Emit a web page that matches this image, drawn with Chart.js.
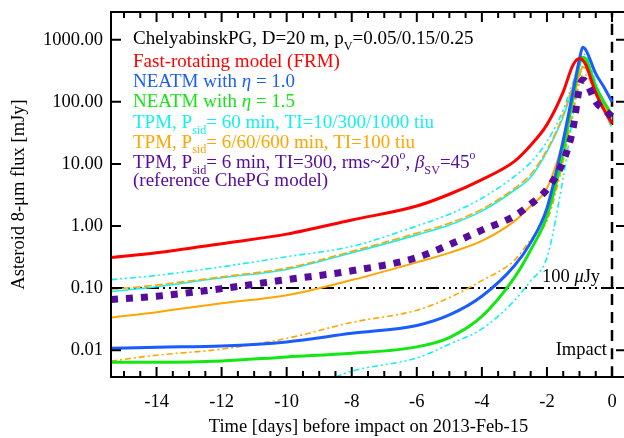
<!DOCTYPE html>
<html>
<head>
<meta charset="utf-8">
<script src="https://cdn.jsdelivr.net/npm/chart.js@4.4.1/dist/chart.umd.min.js"></script>
<style>
  html, body { margin: 0; padding: 0; background: #fff; overflow: hidden; }
  #wrap { width: 632px; height: 438px; }
</style>
</head>
<body>
<div id="wrap"><canvas id="chart" width="632" height="438"></canvas></div>
<script>
// days before impact, shared by most curves
const days = [-15.4, -14, -12, -10, -8, -6, -5, -4, -3, -2.5, -2, -1.5, -1.2, -1.0, -0.9, -0.8, -0.5, -0.25, 0];

// flux [mJy]
const frm       = [0.31, 0.37, 0.52, 0.74, 1.25, 2.1, 3.25, 5.6, 11, 20, 43, 145, 390, 500, 470, 390, 140, 75, 45];
const neatm10   = [0.0107, 0.0112, 0.0117, 0.0136, 0.0187, 0.025, 0.037, 0.074, 0.229, 0.54, 1.94, 24, 145, 490, 760, 680, 284, 174, 100];
const neatm15   = [0.0064, 0.0064, 0.0067, 0.0078, 0.0089, 0.0113, 0.016, 0.035, 0.147, 0.41, 1.45, 15.8, 120, 405, 525, 490, 174, 100, 62];
const tpmTi10   = [0.137, 0.16, 0.22, 0.32, 0.47, 1.0, 1.55, 2.8, 6.3, 10.6, 22.9, 74, 209, 405, 585, 560, 209, 100, 48];
const tpmTi300  = [0.088, 0.105, 0.147, 0.2, 0.37, 0.72, 1.04, 1.74, 3.77, 6.1, 15.8, 57.5, 174, 400, 525, 490, 190, 100, 52];
const tpmP6     = [0.0337, 0.041, 0.057, 0.077, 0.135, 0.26, 0.37, 0.575, 1.2, 2.1, 4.05, 22.9, 100, 280, 360, 350, 150, 85, 55];
const tpmP60    = [0.095, 0.112, 0.152, 0.21, 0.39, 0.77, 1.11, 1.87, 4.05, 6.8, 17, 62, 190, 420, 500, 470, 180, 95, 55];
const tpmP600   = [0.0067, 0.0083, 0.0104, 0.0155, 0.028, 0.044, 0.07, 0.132, 0.28, 0.6, 1.2, 11, 70, 200, 270, 270, 130, 70, 40];
const reference = [0.0655, 0.074, 0.098, 0.137, 0.19, 0.31, 0.5, 0.86, 1.45, 2.25, 3.9, 11, 37, 170, 225, 210, 100, 75, 58];

// TI=1000 curve only enters the plot late
const daysTi1000 = [-8.5, -8, -6, -5, -4, -3, -2.5, -2, -1.5, -1.2, -1.0, -0.9, -0.8, -0.5, -0.25, 0];
const tpmTi1000  = [0.0037, 0.0046, 0.0075, 0.0125, 0.022, 0.063, 0.132, 0.31, 6, 60, 250, 380, 400, 150, 75, 37];

const limitFlux = 0.1;        // 100 microJy
const xTicks = [-14, -12, -10, -8, -6, -4, -2, 0];
const yTicks = [0.01, 0.1, 1, 10, 100, 1000];
const xRange = [-15.4, 0.43];
const yRange = [0.0037, 2800];

const legendLines = [
  ["ChelyabinskPG, D=20 m, p_{V}=0.05/0.15/0.25", "#000000"],
  ["Fast-rotating model (FRM)", "#ff0000"],
  ["NEATM with |η| = 1.0", "#1a5cff"],
  ["NEATM with |η| = 1.5", "#14e614"],
  ["TPM, P_{sid}= 60 min, TI=10/300/1000 tiu", "#12f0f0"],
  ["TPM, P_{sid}= 6/60/600 min, TI=100 tiu", "#ffa500"],
  ["TPM, P_{sid}= 6 min, TI=300, rms~20^{o}, |β|_{SV}=45^{o}", "#560c9c"],
  ["(reference ChePG model)", "#560c9c"],
];

const FONT = '"Liberation Serif", "Times New Roman", serif';
const pts = (xs, ys) => xs.map((x, i) => ({ x: x, y: ys[i] }));

function line(label, xs, ys, color, width, dash) {
  return {
    label, data: pts(xs, ys), borderColor: color, borderWidth: width,
    borderDash: dash || [], pointRadius: 0, fill: false,
    cubicInterpolationMode: "monotone", clip: 0,
  };
}

// rich text: _{sub}, ^{sup}, |italic|
function drawRich(ctx, text, x, y, size, color) {
  const parts = text.split(/(_\{[^}]*\}|\^\{[^}]*\}|\|[^|]*\|)/).filter(s => s.length);
  ctx.fillStyle = color;
  ctx.textBaseline = "alphabetic";
  ctx.textAlign = "left";
  for (const p of parts) {
    let s = p, sz = size, dy = 0, it = false;
    if (p.startsWith("_{")) { s = p.slice(2, -1); sz = size * 0.64; dy = size * 0.3; }
    else if (p.startsWith("^{")) { s = p.slice(2, -1); sz = size * 0.62; dy = -size * 0.45; }
    else if (p.startsWith("|")) { s = p.slice(1, -1); it = true; }
    ctx.font = (it ? "italic " : "") + sz + "px " + FONT;
    ctx.fillText(s, x, y + dy);
    x += ctx.measureText(s).width;
  }
}

const framePlugin = {
  id: "frame",
  afterDatasetsDraw(chart) {
    const { ctx, chartArea: a, scales } = chart;
    ctx.save();
    ctx.strokeStyle = "#000";
    ctx.lineWidth = 2;
    ctx.setLineDash([]);
    ctx.strokeRect(a.left, a.top, a.right - a.left, a.bottom - a.top);
    ctx.beginPath();
    for (let v = -15; v <= 0.01; v += 0.5) {
      const px = scales.x.getPixelForValue(v);
      const len = Math.abs(v % 2) < 0.01 ? 10 : 6;
      ctx.moveTo(px, a.bottom); ctx.lineTo(px, a.bottom - len);
      ctx.moveTo(px, a.top); ctx.lineTo(px, a.top + len);
    }
    for (const v of yTicks) {
      const py = scales.y.getPixelForValue(v);
      ctx.moveTo(a.left, py); ctx.lineTo(a.left + 10, py);
      ctx.moveTo(a.right, py); ctx.lineTo(a.right - 10, py);
    }
    ctx.stroke();

    // legend text
    const base = [44, 66.5, 87, 107, 128, 147.5, 168, 186];
    legendLines.forEach((l, i) => drawRich(ctx, l[0], 133, base[i], 19, l[1]));

    // annotations
    const y01 = scales.y.getPixelForValue(limitFlux);
    drawRich(ctx, "100 |μ|Jy", 542, y01 - 6, 18.5, "#000");
    ctx.fillStyle = "#000";
    ctx.textAlign = "right";
    ctx.font = "18.5px " + FONT;
    ctx.fillText("Impact", 607, scales.y.getPixelForValue(0.01) + 5);
    ctx.restore();
  }
};

const noPad = s => { s.paddingTop = 0; s.paddingBottom = 0; s.paddingLeft = 0; s.paddingRight = 0; };

new Chart(document.getElementById("chart"), {
  type: "line",
  data: {
    datasets: [
      line("reference", days, reference, "#560c9c", 7, [7, 8]),
      line("FRM", days, frm, "#ff0000", 3),
      line("NEATM 1.0", days, neatm10, "#1a5cff", 3),
      line("NEATM 1.5", days, neatm15, "#14e614", 3),
      line("TPM P6", days, tpmP6, "#ffa500", 2),
      line("TPM P60", days, tpmP60, "#ffa500", 1.6, [8, 3]),
      line("TPM P600", days, tpmP600, "#ffa500", 1.6, [6, 3, 2, 3]),
      line("TPM TI10", days, tpmTi10, "#12f0f0", 1.6, [6, 3, 2, 3, 2, 3]),
      line("TPM TI300", days, tpmTi300, "#12f0f0", 1.6),
      line("TPM TI1000", daysTi1000, tpmTi1000, "#12f0f0", 1.6, [6, 3, 2, 3, 2, 3]),
      line("100 uJy", xRange, [limitFlux, limitFlux], "#000", 2, [13, 4, 2, 4, 2, 4, 2, 4]),
      line("impact", [0, 0], yRange, "#000", 2.5, [11, 7]),
    ]
  },
  options: {
    responsive: false,
    animation: false,
    layout: { padding: { top: 12, right: 6, left: 0, bottom: 0 } },
    plugins: { legend: { display: false }, tooltip: { enabled: false } },
    scales: {
      x: {
        type: "linear", min: xRange[0], max: xRange[1],
        grid: { display: false, drawTicks: false }, border: { display: false },
        afterBuildTicks: s => { s.ticks = xTicks.map(v => ({ value: v })); },
        afterFit: s => { s.height = 61; noPad(s); },
        ticks: { color: "#000", font: { family: FONT, size: 18.5 }, padding: 14, maxRotation: 0, autoSkip: false,
                 callback: v => String(v) },
        title: { display: true, text: "Time [days] before impact on 2013-Feb-15", color: "#000",
                 font: { family: FONT, size: 18.5 }, padding: { top: 0, bottom: 0 } },
      },
      y: {
        type: "logarithmic", min: yRange[0], max: yRange[1],
        grid: { display: false, drawTicks: false }, border: { display: false },
        afterBuildTicks: s => { s.ticks = yTicks.map(v => ({ value: v })); },
        afterFit: s => { s.width = 111; noPad(s); },
        ticks: { color: "#000", font: { family: FONT, size: 18.5 }, padding: 8, autoSkip: false,
                 callback: v => Number(v).toFixed(2) },
        title: { display: true, text: "Asteroid 8-μm flux [mJy]", color: "#000",
                 font: { family: FONT, size: 18.5 }, padding: { top: 8, bottom: 0 } },
      }
    }
  },
  plugins: [framePlugin]
});
</script>
</body>
</html>
